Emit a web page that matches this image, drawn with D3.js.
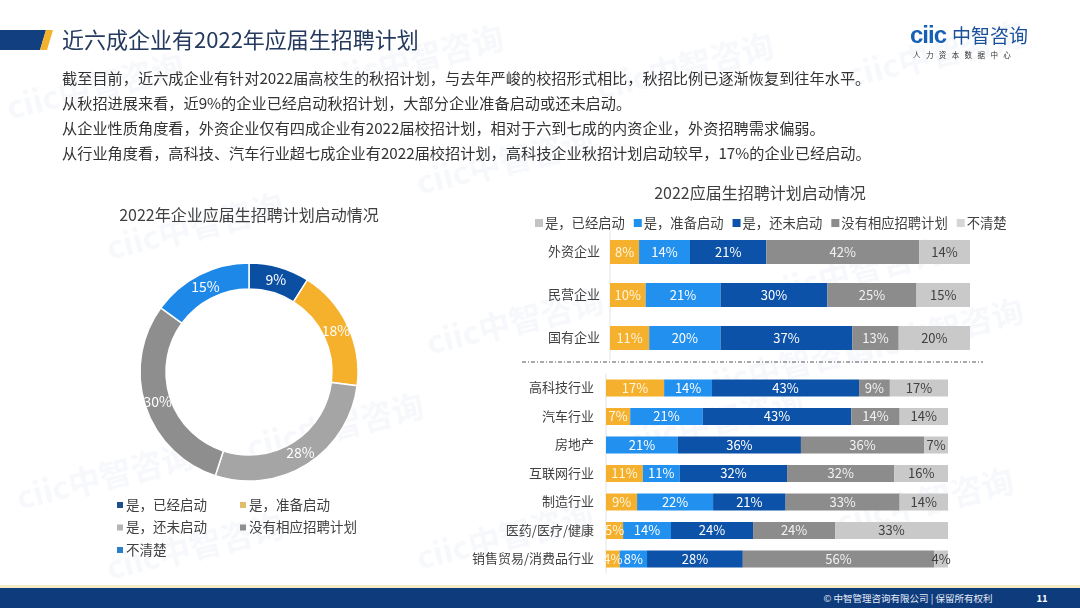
<!DOCTYPE html>
<html>
<head>
<meta charset="utf-8">
<script src="https://cdn.jsdelivr.net/npm/d3@7"></script>
<style>
  body { margin: 0; background: #fff; }
  svg { display: block; font-family: "Noto Sans CJK SC", "Noto Sans", sans-serif; }
</style>
</head>
<body>
<div id="chart"></div>
<script>
// ---- data ---------------------------------------------------------------
const pageTitle = "近六成企业有2022年应届生招聘计划";
const introLines = [
  "截至目前，近六成企业有针对2022届高校生的秋招计划，与去年严峻的校招形式相比，秋招比例已逐渐恢复到往年水平。",
  "从秋招进展来看，近9%的企业已经启动秋招计划，大部分企业准备启动或还未启动。",
  "从企业性质角度看，外资企业仅有四成企业有2022届校招计划，相对于六到七成的内资企业，外资招聘需求偏弱。",
  "从行业角度看，高科技、汽车行业超七成企业有2022届校招计划，高科技企业秋招计划启动较早，17%的企业已经启动。"
];

const seriesNames = ["是，已经启动", "是，准备启动", "是，还未启动", "没有相应招聘计划", "不清楚"];

// donut
const donutTitle = "2022年企业应届生招聘计划启动情况";
const donutValues = [9, 18, 28, 30, 15];

// stacked bars
const barTitle = "2022应届生招聘计划启动情况";
const ownershipCats = ["外资企业", "民营企业", "国有企业"];
const ownStarted   = [8, 10, 11];
const ownPreparing = [14, 21, 20];
const ownNotYet    = [21, 30, 37];
const ownNoPlan    = [42, 25, 13];
const ownUnsure    = [14, 15, 20];

const industryCats = ["高科技行业", "汽车行业", "房地产", "互联网行业", "制造行业", "医药/医疗/健康", "销售贸易/消费品行业"];
const indStarted   = [17, 7, 0, 11, 9, 5, 4];
const indPreparing = [14, 21, 21, 11, 22, 14, 8];
const indNotYet    = [43, 43, 36, 32, 21, 24, 28];
const indNoPlan    = [9, 14, 36, 32, 33, 24, 56];
const indUnsure    = [17, 14, 7, 16, 14, 33, 4];

// ---- setup --------------------------------------------------------------
const W = 1080, H = 608;
const svg = d3.select("#chart").append("svg").attr("width", W).attr("height", H);

const orange = "#f5b12e", blue = "#2190ee", navy = "#0c52a8", gray = "#8c8c8c", lgray = "#c9c9c9";
const barColors = [orange, blue, navy, gray, lgray];
const barLegendColors = ["#c4c4c4", blue, navy, gray, "#d6d6d6"];
const barLabelColors = ["#fff6e0", "#fff", "#fff", "#f2f2f2", "#404040"];
const donutColors = ["#0b4fa3", "#f5b02c", "#a5a5a5", "#8e8e8e", "#1e88e8"];
const donutLegendColors = ["#1d4f8c", "#e3bd6e", "#b5b5b5", "#8e8e8e", "#2a7fc6"];

// watermarks (kept inside the page)
const wm = svg.append("g").attr("fill", "#1a4f9c").attr("opacity", 0.04)
  .attr("font-size", 32).attr("font-weight", "bold");
[[330, 92], [600, 100], [850, 88], [10, 120], [420, 195], [110, 260], [430, 355], [770, 305],
 [850, 365], [20, 510], [250, 460], [630, 455], [840, 535], [110, 580], [420, 570], [700, 400]]
  .forEach(p => wm.append("text").attr("transform", `translate(${p[0]},${p[1]}) rotate(-14)`).text("ciic中智咨询"));

// header
svg.append("path").attr("d", "M0,30 L46,30 L40,50 L0,50 Z").attr("fill", "#123f80");
svg.append("path").attr("d", "M46,30 L53,30 L47,50 L40,50 Z").attr("fill", "#f4b12b");
svg.append("text").attr("x", 62).attr("y", 48).attr("font-size", 22).attr("fill", "#243a5e").text(pageTitle);

// logo
const logo = svg.append("g");
logo.append("text").attr("x", 910).attr("y", 43).attr("font-size", 24).attr("font-weight", "bold")
  .attr("font-family", "Liberation Sans, Arial, sans-serif").attr("fill", "#1660b6").attr("letter-spacing", -1).text("ciic");
logo.append("text").attr("x", 952).attr("y", 43).attr("font-size", 19).attr("fill", "#1a4f9c").text("中智咨询");
logo.append("text").attr("x", 913).attr("y", 58).attr("font-size", 7.5).attr("fill", "#333")
  .attr("letter-spacing", 5.4).text("人力资本数据中心");

// intro text
svg.append("g").selectAll("text").data(introLines).join("text")
  .attr("x", 62).attr("y", (d, i) => 84 + i * 25)
  .attr("font-size", 15.2).attr("fill", "#333").text(d => d);

// ---- donut --------------------------------------------------------------
const cx = 249, cy = 372, rOuter = 109, rInner = 83;
svg.append("text").attr("x", cx).attr("y", 221).attr("text-anchor", "middle")
  .attr("font-size", 16).attr("fill", "#404040").text(donutTitle);

const pie = d3.pie().sort(null).value(d => d);
const arc = d3.arc().innerRadius(rInner).outerRadius(rOuter);
const labelArc = d3.arc().innerRadius((rInner + rOuter) / 2).outerRadius((rInner + rOuter) / 2);
const donut = svg.append("g").attr("transform", `translate(${cx},${cy})`);
const arcs = pie(donutValues);
donut.selectAll("path").data(arcs).join("path")
  .attr("d", arc).attr("fill", (d, i) => donutColors[i])
  .attr("stroke", "#fff").attr("stroke-width", 1.5);
donut.selectAll("text").data(arcs).join("text")
  .attr("transform", d => `translate(${labelArc.centroid(d)})`)
  .attr("text-anchor", "middle").attr("dy", "0.36em")
  .attr("font-size", 14).attr("fill", "#fff").text(d => d.data + "%");

// donut legend
const dLeg = svg.append("g").attr("font-size", 13.5).attr("fill", "#404040");
seriesNames.forEach((name, i) => {
  const col = i % 2, row = Math.floor(i / 2);
  const g = dLeg.append("g").attr("transform", `translate(${117 + col * 123},${505 + row * 22.5})`);
  g.append("rect").attr("x", 0).attr("y", -3).attr("width", 6).attr("height", 6).attr("fill", donutLegendColors[i]);
  g.append("text").attr("x", 9).attr("dy", "0.36em").text(name);
});

// ---- stacked bars -------------------------------------------------------
svg.append("text").attr("x", 760).attr("y", 199).attr("text-anchor", "middle")
  .attr("font-size", 16).attr("fill", "#404040").text(barTitle);

// legend (flow layout)
const bLeg = svg.append("g").attr("font-size", 13.3).attr("fill", "#404040");
let lx = 535;
seriesNames.forEach((name, i) => {
  const g = bLeg.append("g").attr("transform", `translate(${lx},223)`);
  g.append("rect").attr("x", 0).attr("y", -4).attr("width", 8).attr("height", 8).attr("fill", barLegendColors[i]);
  const t = g.append("text").attr("x", 10).attr("dy", "0.36em").text(name);
  lx += 10 + t.node().getComputedTextLength() + 9;
});

const stack = d3.stack().keys(d3.range(5)).offset(d3.stackOffsetExpand);

function drawStack(cats, series, x0, x1, y0, y1, barH, axisX, labelX) {
  const rows = cats.map((c, j) => {
    const r = { cat: c };
    series.forEach((s, k) => r[k] = s[j]);
    return r;
  });
  const layers = stack(rows);
  const x = d3.scaleLinear().domain([0, 1]).range([x0, x1]);
  const step = (y1 - y0) / cats.length;
  const p = 1 - barH / step;
  const y = d3.scaleBand().domain(cats).range([y0, y1]).paddingInner(p).paddingOuter(p / 2);

  const g = svg.append("g");
  g.append("line").attr("x1", axisX).attr("x2", axisX).attr("y1", y0).attr("y2", y1)
    .attr("stroke", "#e3e3e3").attr("stroke-width", 1);

  layers.forEach((layer, k) => {
    g.append("g").selectAll("rect").data(layer).join("rect")
      .attr("x", d => x(d[0])).attr("width", d => x(d[1]) - x(d[0]))
      .attr("y", d => y(d.data.cat)).attr("height", y.bandwidth())
      .attr("fill", barColors[k]);
  });
  layers.forEach((layer, k) => {
    g.append("g").selectAll("text").data(layer.filter(d => d.data[k] > 0)).join("text")
      .attr("x", d => (x(d[0]) + x(d[1])) / 2)
      .attr("y", d => y(d.data.cat) + y.bandwidth() / 2)
      .attr("dy", "0.36em").attr("text-anchor", "middle")
      .attr("font-size", 13).attr("fill", barLabelColors[k])
      .text(d => d.data[k] + "%");
  });

  const yAxis = d3.axisLeft(y).tickSize(0).tickPadding(0);
  const ax = svg.append("g").attr("transform", `translate(${labelX},0)`).call(yAxis);
  ax.select(".domain").remove();
  ax.selectAll("text").attr("font-size", 13).attr("fill", "#404040")
    .attr("font-family", "Noto Sans CJK SC, sans-serif");
}

drawStack(ownershipCats, [ownStarted, ownPreparing, ownNotYet, ownNoPlan, ownUnsure],
  610, 970, 230.5, 359.5, 24, 610, 600);

// dash-dot separator
svg.append("line").attr("x1", 522).attr("x2", 983).attr("y1", 362).attr("y2", 362)
  .attr("stroke", "#555").attr("stroke-width", 1).attr("stroke-dasharray", "4,2,1,2");

drawStack(industryCats, [indStarted, indPreparing, indNotYet, indNoPlan, indUnsure],
  606, 948, 373.75, 573.25, 17, 606, 594);

// ---- footer -------------------------------------------------------------
svg.append("rect").attr("x", 0).attr("y", 585).attr("width", W).attr("height", 3).attr("fill", "#f6ecc4");
svg.append("rect").attr("x", 0).attr("y", 588).attr("width", W).attr("height", 20).attr("fill", "#0d3b7c");
svg.append("text").attr("x", 908).attr("y", 602).attr("text-anchor", "middle")
  .attr("font-size", 9.5).attr("fill", "#e8eef8").text("© 中智管理咨询有限公司 | 保留所有权利");
svg.append("text").attr("x", 1042).attr("y", 602).attr("text-anchor", "middle")
  .attr("font-size", 9.5).attr("font-weight", "bold").attr("fill", "#fff").text("11");
</script>
</body>
</html>
